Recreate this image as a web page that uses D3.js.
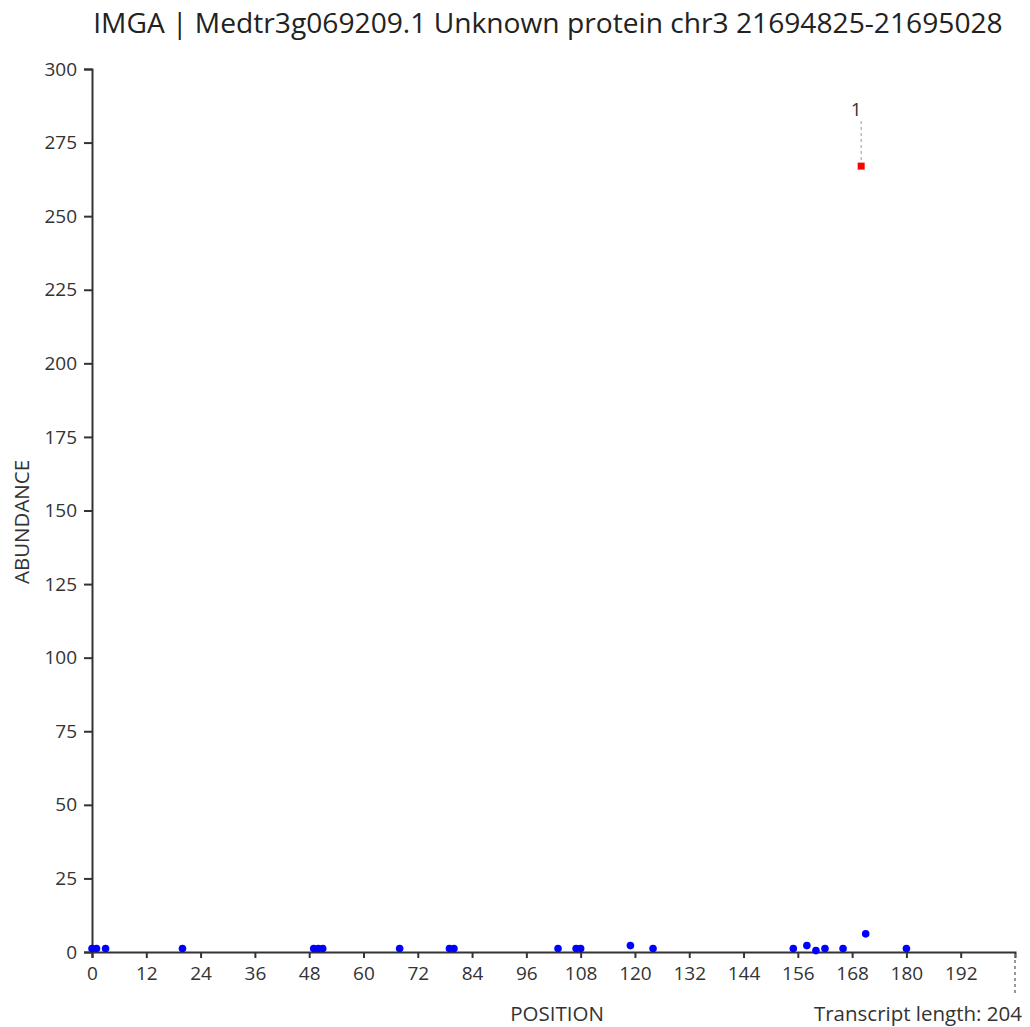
<!DOCTYPE html>
<html>
<head>
<meta charset="utf-8">
<script src="https://cdn.jsdelivr.net/npm/d3@7"></script>
<style>
  body { margin: 0; background: #fff; }
  text { font-family: "Open Sans", sans-serif; fill: #333; }
</style>
</head>
<body>
<div id="chart"></div>
<script>
const titleText = "IMGA | Medtr3g069209.1 Unknown protein chr3 21694825-21695028";
const transcriptLength = 204;

// blue dots: position / abundance
const positions = [0, 1, 3, 20, 49, 50, 51, 68, 79, 80, 103, 107, 108, 119, 124, 155, 158, 160, 162, 166, 171, 180];
const abundances = [1, 1, 1, 1, 1, 1, 1, 1, 1, 1, 1, 1, 1, 2, 1, 1, 2, 0.3, 1, 1, 6, 1];

// highlighted (red) peak
const peakPositions = [170];
const peakAbundances = [267];
const peakLabels = ["1"];

const xTicks = [0, 12, 24, 36, 48, 60, 72, 84, 96, 108, 120, 132, 144, 156, 168, 180, 192];
const yTicks = [0, 25, 50, 75, 100, 125, 150, 175, 200, 225, 250, 275, 300];

const width = 1030, height = 1027;
const svg = d3.select("#chart").append("svg")
    .attr("width", width)
    .attr("height", height);

const x = d3.scaleLinear().domain([0, transcriptLength]).range([92, 1015]);
const y = d3.scaleLinear().domain([0, 300]).range([952, 69]);

// title, fitted to its width in the reference
const title = svg.append("text")
    .attr("x", 548)
    .attr("y", 33)
    .attr("text-anchor", "middle")
    .style("font-size", "28px")
    .style("fill", "#222")
    .text(titleText);
const tl = title.node().getComputedTextLength();
title.style("font-size", (28 * 910 / tl) + "px");

// y axis
const yAxis = svg.append("g")
    .attr("transform", "translate(92,0)")
    .call(d3.axisLeft(y).tickValues(yTicks).tickSize(8).tickPadding(7));
yAxis.select(".domain").attr("stroke", "#333").attr("stroke-width", 2);
yAxis.selectAll(".tick line").attr("stroke", "#333").attr("stroke-width", 2);
yAxis.selectAll(".tick text").style("font-size", "19px").style("fill", "#333");

// x axis
const xAxis = svg.append("g")
    .attr("transform", "translate(0,952)")
    .call(d3.axisBottom(x).tickValues(xTicks).tickSize(6).tickPadding(9));
xAxis.select(".domain").attr("stroke", "#333").attr("stroke-width", 2);
xAxis.selectAll(".tick line").attr("stroke", "#333").attr("stroke-width", 2);
xAxis.selectAll(".tick text").style("font-size", "19px").style("fill", "#333");

// dashed end-of-transcript marker
svg.append("line")
    .attr("x1", x(transcriptLength)).attr("x2", x(transcriptLength))
    .attr("y1", y(0) + 2).attr("y2", 995)
    .attr("stroke", "#777")
    .attr("stroke-width", 1.5)
    .attr("stroke-dasharray", "3,3");

svg.append("text")
    .attr("x", 1022)
    .attr("y", 1021)
    .attr("text-anchor", "end")
    .style("font-size", "20.5px")
    .text("Transcript length: " + transcriptLength);

svg.append("text")
    .attr("x", 557)
    .attr("y", 1021)
    .attr("text-anchor", "middle")
    .style("font-size", "20.5px")
    .text("POSITION");

svg.append("text")
    .attr("transform", "translate(29,522) rotate(-90)")
    .attr("text-anchor", "middle")
    .style("font-size", "20.5px")
    .text("ABUNDANCE");

// blue points
svg.selectAll("circle.pt")
    .data(positions)
    .enter()
    .append("circle")
    .attr("class", "pt")
    .attr("cx", d => x(d))
    .attr("cy", (d, i) => y(abundances[i]) - 0.5)
    .attr("r", 3.8)
    .attr("fill", "#0000ff");

// peak markers
peakPositions.forEach((p, i) => {
    const px = x(p), py = y(peakAbundances[i]);
    svg.append("line")
        .attr("x1", px).attr("x2", px)
        .attr("y1", 121).attr("y2", py - 6)
        .attr("stroke", "#999")
        .attr("stroke-width", 1)
        .attr("stroke-dasharray", "3,3");
    svg.append("rect")
        .attr("x", px - 3.5).attr("y", py - 3.5)
        .attr("width", 7).attr("height", 7)
        .attr("fill", "#ff0000");
    svg.append("text")
        .attr("x", px - 5)
        .attr("y", 116)
        .attr("text-anchor", "middle")
        .style("font-size", "19px")
        .text(peakLabels[i]);
});
</script>
</body>
</html>
